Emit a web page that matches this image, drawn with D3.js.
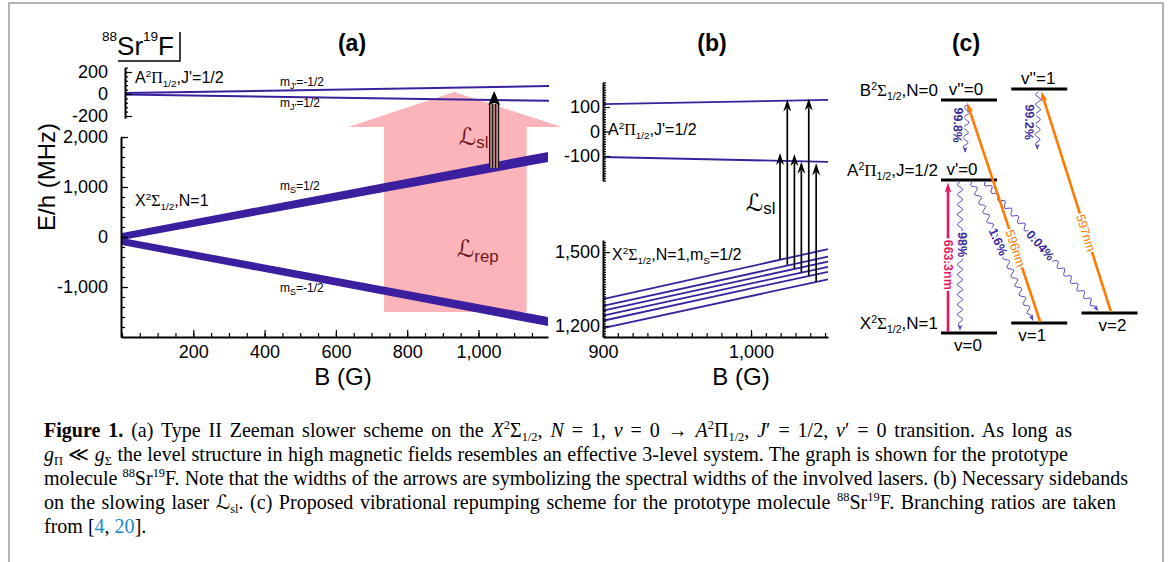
<!DOCTYPE html>
<html>
<head>
<meta charset="utf-8">
<script src="https://cdn.jsdelivr.net/npm/d3@7/dist/d3.min.js"></script>
<style>
body { margin: 0; background: #fff; }
svg { display: block; }
</style>
</head>
<body>
<svg id="fig" width="1171" height="562"></svg>
<script>
"use strict"

// ---- (a) Zeeman shifts, B in G, E/h in MHz ----
var fieldA = [0, 1195];
var aLevelMjMinus = [8, 73];      // A2Pi1/2, mJ' = -1/2
var aLevelMjPlus = [-5, -62];     // A2Pi1/2, mJ' = +1/2
var xBandUpHi = [80, 1700];       // X2Sigma, mS = +1/2 (edges of the band)
var xBandUpLo = [-60, 1500];
var xBandDnHi = [-20, -1600];     // X2Sigma, mS = -1/2
var xBandDnLo = [-160, -1780];
var ticksATop = [-200, 0, 200];
var ticksABot = [-1000, 0, 1000, 2000];
var ticksAB = [200, 400, 600, 800, 1000];
var slowA = [1044, 1380, 27];     // field, from X (MHz), to A (MHz)
var repShaftB = [735, 1135];
var repHeadB = [634, 1234];
var repTipB = 932;
var repE = [-1500, 2200, 2900];   // shaft bottom, head base, tip

// ---- (b) sidebands ----
var fieldB = [900, 1052];
var bLevelUp = [112, 129];
var bLevelDn = [-104, -124];
var bXLevels = [[1309, 1512], [1281, 1481], [1262, 1461], [1242, 1440], [1221, 1420], [1191, 1389]];
var sbField = [1019.6, 1024.5, 1029.3, 1034, 1039, 1044];
var sbFrom = [1470, 1448, 1431, 1417, 1403, 1378];
var sbTo = [-88, 131, -92, -123, 135, -130];
var ticksBTop = [-100, 0, 100];
var ticksBBot = [1200, 1500];
var ticksBB = [900, 1000];

// ---- (c) repumping scheme (arbitrary energy units) ----
var vibName = ["v=0", "v=1", "v=2", "v'=0", "v''=0", "v''=1"];
var vibCol = [0, 1, 2, 0, 0, 1];
var vibE = [0, 0.5, 1, 7.65, 11.65, 12.2];
var decayFrom = [3, 3, 3, 4, 5];
var decayTo = [0, 1, 2, 3, 3];
var decayPct = ["98%", "1.6%", "0.04%", "99.8%", "99.2%"];
var laserFrom = [0, 1, 2];
var laserTo = [3, 4, 5];
var laserNm = ["663.3nm", "596nm", "597nm"];

var SANS = "'Liberation Sans', Arial, sans-serif";
var SERIF = "'Liberation Serif', 'Times New Roman', serif";
var SCRIPT = "'DejaVu Sans', sans-serif";
var LEVEL = "#3b1f9e";
var MAROON = "#6e1522";
var PURPLE = "#3a2a9c";
var WAVE = "#5443c4";
var MAGENTA = "#ec1660";
var ORANGE = "#ff7a00";
var BLUE = "#1a8ac6";

var svg = d3.select("#fig");
svg.append("rect").attr("width", 1171).attr("height", 562).attr("fill", "#fff");
svg.append("path").attr("d", "M9,562V3H1163V562")
	.attr("fill", "none").attr("stroke", "#9a9a9a").attr("stroke-width", 1.5);

// text with sub/superscripts: parts = [[text, kind, colour], ...]
function rich(sel, x, y, parts, size, opt) {
	opt = opt || {};
	var sup = opt.sup || [0.62, -0.38], sub = opt.sub || [0.62, 0.22];
	var t = sel.append("text").attr("x", x).attr("y", y)
		.attr("font-size", size)
		.attr("font-family", opt.family || SANS)
		.attr("text-anchor", opt.anchor || "start")
		.attr("fill", opt.fill || "#000");
	var cur = 0;
	parts.forEach(function(p) {
		var k = p[1] || "", off = 0, fs = size;
		if (k.indexOf("sup") >= 0) { off = sup[1] * size; fs = sup[0] * size; }
		if (k.indexOf("sub") >= 0) { off = sub[1] * size; fs = sub[0] * size; }
		var s = t.append("tspan").attr("dy", off - cur).attr("font-size", fs).text(p[0]);
		cur = off;
		if (k.indexOf("serif") >= 0) s.attr("font-family", SERIF);
		if (k.indexOf("script") >= 0) s.attr("font-family", SCRIPT);
		if (k.indexOf("it") >= 0) s.attr("font-style", "italic");
		if (k.indexOf("bold") >= 0) s.attr("font-weight", "bold");
		if (p[2]) s.attr("fill", p[2]);
	});
	return t;
}

function fmt(d) { return d3.format(",")(d).replace("\u2212", "-"); }

function styleAxis(g) {
	g.selectAll("path.domain").attr("stroke", "#000").attr("stroke-width", 2);
	g.selectAll(".tick line").attr("stroke", "#000").attr("stroke-width", 1.2);
	g.selectAll(".tick text").attr("fill", "#000").attr("font-family", SANS).attr("font-size", 18);
}

function minorValues(scale, step) {
	var d = scale.domain(), lo = Math.min(d[0], d[1]), hi = Math.max(d[0], d[1]);
	return d3.range(Math.ceil(lo / step) * step, hi + 1e-6, step);
}

function leftAxis(x, scale, major, step, pad, mlen) {
	var g = svg.append("g").attr("transform", "translate(" + x + ",0)");
	g.append("g").call(d3.axisLeft(scale).tickValues(minorValues(scale, step)).tickSize(-(mlen || 4)).tickFormat(""))
		.select(".domain").remove();
	g.append("g").call(d3.axisLeft(scale).tickValues(major).tickSizeInner(-7).tickSizeOuter(0)
		.tickPadding(pad).tickFormat(fmt));
	styleAxis(g);
	return g;
}

function bottomAxis(y, scale, major, step, pad) {
	var g = svg.append("g").attr("transform", "translate(0," + y + ")");
	g.append("g").call(d3.axisBottom(scale).tickValues(minorValues(scale, step)).tickSize(-4).tickFormat(""))
		.select(".domain").remove();
	g.append("g").call(d3.axisBottom(scale).tickValues(major).tickSizeInner(-7).tickSizeOuter(0)
		.tickPadding(pad).tickFormat(fmt));
	styleAxis(g);
	return g;
}

// arrow head with its tip at (x1,y1), pointing away from (x0,y0)
function head(sel, x0, y0, x1, y1, len, wid, colour, notch) {
	var a = Math.atan2(y1 - y0, x1 - x0) * 180 / Math.PI;
	sel.append("path")
		.attr("d", "M0,0L" + (-len) + "," + (wid / 2) + "L" + (-len * notch) + ",0L" + (-len) + "," + (-wid / 2) + "Z")
		.attr("transform", "translate(" + x1 + "," + y1 + ") rotate(" + a + ")")
		.attr("fill", colour);
}

function wavy(x0, y0, x1, y1, amp, wl) {
	var dx = x1 - x0, dy = y1 - y0, L = Math.hypot(dx, dy);
	var ux = dx / L, uy = dy / L, nx = -uy, ny = ux;
	var n = Math.round(L / 1.2), pts = [];
	for (var i = 0; i <= n; i++) {
		var s = L * i / n;
		var o = amp * Math.sin(2 * Math.PI * s / wl) * Math.min(1, (L - s) / 6);
		pts.push([x0 + ux * s + nx * o, y0 + uy * s + ny * o]);
	}
	return d3.line()(pts);
}

// ================= panel (a) =================
var xa = d3.scaleLinear().domain([0, 1195]).range([122, 548]);
var xaTop = d3.scaleLinear().domain([0, 1195]).range([125, 549]);
var yaTop = d3.scaleLinear().domain([-220, 240]).range([118.2, 67.6]);
var ya = d3.scaleLinear().domain([-2000, 2000]).range([337, 137]);

var rp = [[repShaftB[0], repE[0]], [repShaftB[0], repE[1]], [repHeadB[0], repE[1]], [repTipB, repE[2]],
	[repHeadB[1], repE[1]], [repShaftB[1], repE[1]], [repShaftB[1], repE[0]]];
svg.append("path")
	.attr("d", d3.line().x(function(d) { return xa(d[0]); }).y(function(d) { return ya(d[1]); })(rp) + "Z")
	.attr("fill", "#fbb4b9");

function band(hi, lo) {
	var pts = fieldA.map(function(b, i) { return { b: b, hi: hi[i], lo: lo[i] }; });
	return d3.area().x(function(d) { return xa(d.b); })
		.y0(function(d) { return ya(d.lo); }).y1(function(d) { return ya(d.hi); })(pts);
}
svg.append("path").attr("d", band(xBandUpHi, xBandUpLo)).attr("fill", LEVEL);
svg.append("path").attr("d", band(xBandDnHi, xBandDnLo)).attr("fill", LEVEL);

var topLine = d3.line().x(function(d, i) { return xaTop(fieldA[i]); }).y(function(d) { return yaTop(d); });
[aLevelMjMinus, aLevelMjPlus].forEach(function(s) {
	svg.append("path").attr("d", topLine(s)).attr("fill", "none").attr("stroke", LEVEL).attr("stroke-width", 2);
});

leftAxis(125, yaTop, ticksATop, 40, 17, 3);
leftAxis(121, ya, ticksABot, 200, 13);
bottomAxis(337, xa, ticksAB, 50, 8);

// slowing laser (a), drawn as a wide striped arrow
(function() {
	var sx = xa(slowA[0]), sy0 = ya(slowA[1]), sy1 = yaTop(slowA[2]), hl = 14, hw = 12;
	svg.append("rect").attr("x", sx - 5).attr("y", sy1 + hl - 1).attr("width", 10)
		.attr("height", sy0 - sy1 - hl + 1).attr("fill", "#b38484");
	[-4.5, -1.5, 1.5, 4.5].forEach(function(dx) {
		svg.append("line").attr("x1", sx + dx).attr("x2", sx + dx).attr("y1", sy1 + hl - 1).attr("y2", sy0)
			.attr("stroke", "#000").attr("stroke-width", 1);
	});
	head(svg, sx, sy0, sx, sy1, hl, hw, "#000", 0.85);
})();

rich(svg, 135, 83, [["A"], ["2", "sup"], ["\u03a0", "serif"], ["1/2", "sub"], [",J'=1/2"]], 16);
rich(svg, 135, 206, [["X"], ["2", "sup"], ["\u03a3", "serif"], ["1/2", "sub"], [",N=1"]], 16);
rich(svg, 280, 86, [["m"], ["J'", "sub"], ["=-1/2"]], 12, { sub: [0.75, 0.25] });
rich(svg, 280, 107, [["m"], ["J'", "sub"], ["=1/2"]], 12, { sub: [0.75, 0.25] });
rich(svg, 280, 190, [["m"], ["S", "sub"], ["=1/2"]], 12, { sub: [0.75, 0.25] });
rich(svg, 280, 292, [["m"], ["S", "sub"], ["=-1/2"]], 12, { sub: [0.75, 0.25] });
rich(svg, 459, 145, [["\u2112", "script"], ["sl", "sub"]], 24, { fill: MAROON, sub: [0.7, 0.12] });
rich(svg, 457, 257, [["\u2112", "script"], ["rep", "sub"]], 24, { fill: MAROON, sub: [0.7, 0.2] });

rich(svg, 102, 55, [["88", "sup"], ["Sr"], ["19", "sup"], ["F"]], 26, { sup: [0.52, -0.54] });
svg.append("path").attr("d", "M118,61H180V32").attr("fill", "none").attr("stroke", "#000").attr("stroke-width", 1.5);

svg.append("text").attr("transform", "translate(55,177) rotate(-90)").attr("text-anchor", "middle")
	.attr("font-family", SANS).attr("font-size", 24).text("E/h (MHz)");
svg.append("text").attr("x", 343).attr("y", 385).attr("text-anchor", "middle")
	.attr("font-family", SANS).attr("font-size", 24).text("B (G)");

// ================= panel (b) =================
var xb = d3.scaleLinear().domain([900, 1052]).range([603, 828]);
var ybTop = d3.scaleLinear().domain([-200, 200]).range([180.5, 82.5]);
var yb = d3.scaleLinear().domain([1155, 1549]).range([337, 240]);

var bTopLine = d3.line().x(function(d, i) { return xb(fieldB[i]); }).y(function(d) { return ybTop(d); });
var bBotLine = d3.line().x(function(d, i) { return xb(fieldB[i]); }).y(function(d) { return yb(d); });
[bLevelUp, bLevelDn].forEach(function(s) {
	svg.append("path").attr("d", bTopLine(s)).attr("fill", "none").attr("stroke", LEVEL).attr("stroke-width", 1.8);
});
bXLevels.forEach(function(s) {
	svg.append("path").attr("d", bBotLine(s)).attr("fill", "none").attr("stroke", LEVEL).attr("stroke-width", 1.8);
});

leftAxis(603, ybTop, ticksBTop, 10, 3, 3);
leftAxis(603, yb, ticksBBot, 10, 3, 3);
bottomAxis(337, xb, ticksBB, 10, 8);

sbField.forEach(function(b, i) {
	var x = xb(b), y0 = yb(sbFrom[i]), y1 = ybTop(sbTo[i]);
	svg.append("line").attr("x1", x).attr("x2", x).attr("y1", y0).attr("y2", y1 + 9)
		.attr("stroke", "#000").attr("stroke-width", 1.7);
	head(svg, x, y0, x, y1, 12, 8, "#000", 0.7);
});

rich(svg, 608, 135, [["A"], ["2", "sup"], ["\u03a0", "serif"], ["1/2", "sub"], [",J'=1/2"]], 16);
rich(svg, 612, 260, [["X"], ["2", "sup"], ["\u03a3", "serif"], ["1/2", "sub"], [",N=1,m"], ["S", "sub"], ["=1/2"]], 16);
rich(svg, 746, 211, [["\u2112", "script"], ["sl", "sub"]], 24, { sub: [0.7, 0.12] });
svg.append("text").attr("x", 741).attr("y", 385).attr("text-anchor", "middle")
	.attr("font-family", SANS).attr("font-size", 24).text("B (G)");

// ================= panel (c) =================
var cx = d3.scaleLinear().domain([0, 2]).range([969, 1109.5]);
var ce = d3.scaleLinear().domain([0, 12.2]).range([333, 89]);
var halfW = 28;
var nameDx = [-1, -7, 3, -7, -3, -1];
// layout of the decay waves: x offsets (start, end), gaps to the levels, label position
var decayDx = [[-9, -9], [3, -6], [16, -11], [-2, -4], [-1, -2]];
var decayVertical = [false, false, false, true, true];
var decayGap = [[2, 2], [2, 2], [2, 2], [5, 27], [3, 30]];
var decayLab = [[0.42, 2], [0.43, 0], [0.49, 0], [0.42, -8], [0.52, -8]];
var laserDx = [[-21, -21], [1, -2], [1.5, 2]];
var laserLab = [0.45, 0.336, 0.359];

vibE.forEach(function(e, i) {
	var y = ce(e), x = cx(vibCol[i]);
	svg.append("line").attr("x1", x - halfW).attr("x2", x + halfW).attr("y1", y).attr("y2", y)
		.attr("stroke", "#000").attr("stroke-width", 3);
	svg.append("text").attr("x", x + nameDx[i]).attr("y", i < 3 ? y + 18 : y - 5)
		.attr("text-anchor", "middle").attr("font-family", SANS).attr("font-size", 17).text(vibName[i]);
});
rich(svg, 938, ce(vibE[4]) - 4, [["B"], ["2", "sup"], ["\u03a3", "serif"], ["1/2", "sub"], [",N=0"]], 17, { anchor: "end" });
rich(svg, 938, ce(vibE[3]) - 4, [["A"], ["2", "sup"], ["\u03a0", "serif"], ["1/2", "sub"], [",J=1/2"]], 17, { anchor: "end" });
rich(svg, 938, ce(vibE[0]) - 4, [["X"], ["2", "sup"], ["\u03a3", "serif"], ["1/2", "sub"], [",N=1"]], 17, { anchor: "end" });

var cLabels = [];
decayFrom.forEach(function(f, i) {
	var t = decayTo[i];
	var x0 = cx(vibCol[f]) + decayDx[i][0], y0 = ce(vibE[f]) + decayGap[i][0];
	var x1 = cx(vibCol[decayVertical[i] ? f : t]) + decayDx[i][1], y1 = ce(vibE[t]) - decayGap[i][1];
	svg.append("path").attr("d", wavy(x0, y0, x1 - (x1 - x0) * 0.02, y1 - (y1 - y0) * 0.02, 2.6, 10))
		.attr("fill", "none").attr("stroke", WAVE).attr("stroke-width", 1);
	head(svg, x0, y0, x1, y1, 6, 4.5, WAVE, 0.8);
	var k = decayLab[i][0];
	cLabels.push({ x: x0 + (x1 - x0) * k + decayLab[i][1], y: y0 + (y1 - y0) * k,
		a: Math.atan2(y1 - y0, x1 - x0) * 180 / Math.PI, text: decayPct[i], fill: PURPLE, bold: true });
});

laserFrom.forEach(function(f, i) {
	var t = laserTo[i];
	var x0 = cx(vibCol[f]) + laserDx[i][0], y0 = ce(vibE[f]) - 1;
	var x1 = cx(vibCol[t]) + laserDx[i][1], y1 = ce(vibE[t]) + 2.5;
	var col = i === 0 ? MAGENTA : ORANGE;
	var L = Math.hypot(x1 - x0, y1 - y0);
	svg.append("line").attr("x1", x0).attr("y1", y0)
		.attr("x2", x1 - (x1 - x0) * 8 / L).attr("y2", y1 - (y1 - y0) * 8 / L)
		.attr("stroke", col).attr("stroke-width", 2.6);
	head(svg, x0, y0, x1, y1, 10, 6.5, col, 0.8);
	var k = laserLab[i];
	cLabels.push({ x: x0 + (x1 - x0) * k, y: y0 + (y1 - y0) * k,
		a: Math.atan2(y0 - y1, x0 - x1) * 180 / Math.PI, text: laserNm[i], fill: col, bold: i === 0 });
});

cLabels.forEach(function(d) {
	svg.append("text").attr("transform", "translate(" + d.x + "," + d.y + ") rotate(" + d.a + ")")
		.attr("text-anchor", "middle").attr("dy", "0.36em")
		.attr("font-family", SANS).attr("font-size", 12.5)
		.attr("font-weight", d.bold ? "bold" : "normal")
		.attr("fill", d.fill).attr("stroke", "#fff").attr("stroke-width", 3.5)
		.attr("paint-order", "stroke").text(d.text);
});

// panel titles
[["(a)", 352], ["(b)", 712], ["(c)", 966]].forEach(function(p) {
	svg.append("text").attr("x", p[1]).attr("y", 51).attr("text-anchor", "middle")
		.attr("font-family", SANS).attr("font-weight", "bold").attr("font-size", 23).text(p[0]);
});

// ================= caption =================
var capLines = [
	[["Figure 1.", "bold"], [" (a) Type II Zeeman slower scheme on the "], ["X", "it"], ["2", "sup"], ["\u03a3"], ["1/2", "sub"],
		[", "], ["N", "it"], [" = 1, "], ["\u03bd", "it"], [" = 0 \u2192 "], ["A", "it"], ["2", "sup"], ["\u03a0"], ["1/2", "sub"],
		[", "], ["J", "it"], ["\u2032"], [" = 1/2, "], ["\u03bd", "it"], ["\u2032"], [" = 0 transition. As long as"]],
	[["g", "it"], ["\u03a0", "sub"], [" \u226a "], ["g", "it"], ["\u03a3", "sub"],
		[" the level structure in high magnetic fields resembles an effective 3-level system. The graph is shown for the prototype"]],
	[["molecule "], ["88", "sup"], ["Sr"], ["19", "sup"],
		["F. Note that the widths of the arrows are symbolizing the spectral widths of the involved lasers. (b) Necessary sidebands"]],
	[["on the slowing laser "], ["\u2112", "script"], ["sl", "sub"],
		[". (c) Proposed vibrational repumping scheme for the prototype molecule "], ["88", "sup"], ["Sr"], ["19", "sup"],
		["F. Branching ratios are taken"]],
	[["from ["], ["4", "", BLUE], [", "], ["20", "", BLUE], ["]."]]
];
var capX = 44;
var capY = [437, 461, 485, 509, 533];
var capEnd = [1072, 1068, 1128, 1116, 0];

// pick the font size from the widest line, then even out the rest with word spacing
var probe = rich(svg, capX, -50, capLines[2], 18, { family: SERIF });
var capSize = 18 * (capEnd[2] - capX) / probe.node().getComputedTextLength();
probe.remove();
capLines.forEach(function(parts, i) {
	var t = rich(svg, capX, capY[i], parts, capSize, { family: SERIF });
	if (capEnd[i]) {
		var w = t.node().getComputedTextLength();
		var spaces = t.text().split(" ").length - 1;
		t.attr("word-spacing", (capEnd[i] - capX - w) / spaces);
	}
});
</script>
</body>
</html>
